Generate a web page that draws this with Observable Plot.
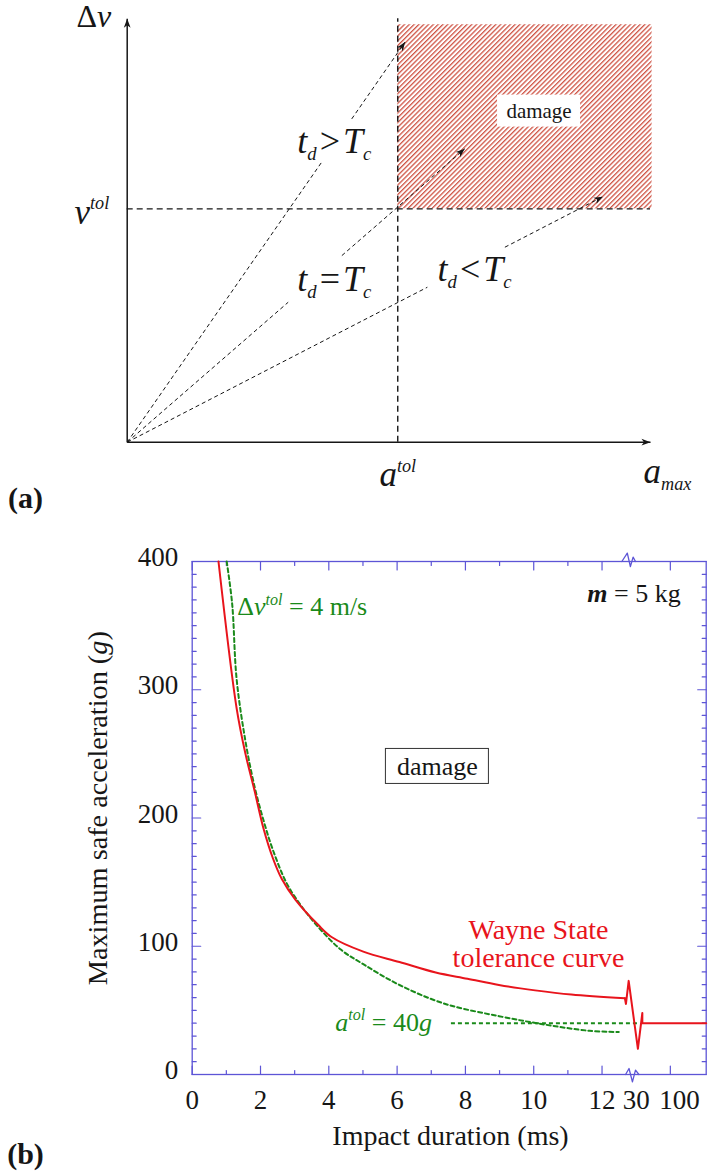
<!DOCTYPE html>
<html><head><meta charset="utf-8">
<script src="https://cdn.jsdelivr.net/npm/d3@7"></script>
<script src="https://cdn.jsdelivr.net/npm/@observablehq/plot@0.6"></script>
<style>
html,body{margin:0;padding:0;background:#fff;}
#chart{width:710px;}
#chart svg{display:block;}
</style></head><body>
<svg width="0" height="0" style="position:absolute">
<defs><pattern id="hatchA" patternUnits="userSpaceOnUse" width="3.4" height="3.4" patternTransform="rotate(45)">
<rect width="3.4" height="3.4" fill="#fff"/><rect x="0" y="0" width="1.3" height="3.4" fill="#cf5445"/></pattern></defs></svg>
<div id="chart"></div>
<script>
const FONT = '"Liberation Serif", "Times New Roman", Times, serif';
const INK = "#161616";
const RED = "#e8141c";
const GREEN = "#1a8a1a";
const FRAME = "#5d55d6";

// ---------- Panel (a) data (abstract units) ----------
const aTolA = 0.517;
const vTolA = 0.551;
const damageRegionX = [0.517, 1.003];
const damageRegionY = [0.551, 0.986];
const trajLabels = ["*t*_{*d*}\u200a>\u200a*T*_{*c*}", "*t*_{*d*}\u200a=\u200a*T*_{*c*}", "*t*_{*d*}\u200a<\u200a*T*_{*c*}"];
const trajEndX = [0.531, 0.645, 0.909];
const trajEndY = [0.945, 0.693, 0.580];
const trajGapFrom = [0.70, 0.477, 0.631];
const trajGapTo = [0.808, 0.636, 0.794];
const trajLabelX = [0.325, 0.325, 0.593];
const trajLabelY = [0.711, 0.384, 0.408];
const damageLabelA = [{x: 0.787, y: 0.782, text: "damage"}];

// ---------- Panel (b) data ----------
// Wayne State tolerance curve (ms, g)
const wsT = [0.77, 1.30, 1.56, 1.83, 2.09, 2.36, 2.62, 3.02, 3.68, 4.08, 5.01, 6.07, 7.13, 8.06, 8.98, 10.04, 11.10, 12.67];
const wsA = [400, 285.7, 250, 220.8, 191.6, 168.8, 152.6, 136.4, 116.9, 107.2, 95.8, 87.7, 79.5, 74.7, 69.8, 65.6, 62.3, 59.4];
// broken-axis part of the Wayne State curve (break symbol, then the 40 g plateau)
const wsBreakT = [12.67, 12.70, 12.78, 13.05, 13.18, 13.18, 15.05];
const wsBreakA = [59.4, 55, 73, 20, 48, 40, 40];
// Δv_tol = 4 m/s curve
const dvT = [1.01, 1.17, 1.30, 1.56, 1.83, 2.09, 2.36, 2.76, 3.15, 3.68, 4.35, 5.01, 6.07, 7.39, 8.98, 10.31, 11.63, 12.49];
const dvA = [400, 367, 308.5, 259.8, 224, 198, 175.3, 149.4, 133, 115.3, 97.4, 86, 69.8, 55.2, 45.5, 39, 34.1, 33.1];
// a_tol = 40 g line
const aTolG = 40;
const aTolLineFrom = 7.59, aTolLineTo = 13.12;
// axis ticks & labels
const xMajor = [0, 2, 4, 6, 8, 10, 12, 14];
const xMinor = [1, 3, 5, 7, 9, 11];
const xLabelText = ["0", "2", "4", "6", "8", "10", "12", "30", "100"];
const xLabelPos = [0, 2, 4, 6, 8, 10, 12, 13.0, 14.27];
const yMajor = [0, 100, 200, 300, 400];
const yMinor = d3.range(10, 400, 10).filter(v => v % 100 !== 0);
const xMax = 15.05;
// axis-break zigzags on the frame
const breakTopT = [12.58, 12.74, 12.83, 12.91, 12.98];
const breakTopDA = [0, 6.5, -3.9, 3.4, 0];
const breakBotT = [12.69, 12.79, 12.89, 12.98, 13.08];
const breakBotDA = [0, 4.7, -5.7, 3.4, 0];

// ---------- helpers ----------
function parseRich(s) {
  const segs = [];
  let buf = "", italic = false, bold = false, shift = 0;
  const flush = () => { if (buf) segs.push({t: buf, italic, bold, shift}); buf = ""; };
  for (let i = 0; i < s.length; i++) {
    const c = s[i];
    if (c === "*") { flush(); italic = !italic; }
    else if (c === "#") { flush(); bold = !bold; }
    else if ((c === "^" || c === "_") && s[i + 1] === "{") { flush(); shift = c === "^" ? 1 : -1; i++; }
    else if (c === "}" && shift) { flush(); shift = 0; }
    else buf += c;
  }
  flush();
  return segs;
}
function richify(svg, {ratio, sup, sub}) {
  d3.select(svg).selectAll("text").each(function () {
    const s = this.textContent;
    if (!/[*#]|\^\{|_\{/.test(s)) return;
    if (this.querySelector("tspan")) return;
    const F = parseFloat(getComputedStyle(this).fontSize);
    const segs = parseRich(s);
    while (this.firstChild) this.removeChild(this.firstChild);
    let cur = 0;
    for (const seg of segs) {
      const t = d3.select(this).append("tspan").text(seg.t);
      if (seg.italic) t.attr("font-style", "italic");
      if (seg.bold) t.attr("font-weight", "bold");
      const target = seg.shift > 0 ? -sup * F : seg.shift < 0 ? sub * F : 0;
      if (target !== cur) { t.attr("dy", (target - cur).toFixed(2)); cur = target; }
      if (seg.shift) t.attr("font-size", (ratio * F).toFixed(2));
    }
  });
}
const headSymbol = {draw(ctx) { ctx.moveTo(0, 0); ctx.lineTo(-3.4, 9); ctx.lineTo(0, 6.5); ctx.lineTo(3.4, 9); ctx.closePath(); }};
const tickShape = {draw(ctx, l) { ctx.moveTo(0, 0); ctx.lineTo(0, -l); }};

// ---------- Panel (a) ----------
const A = {width: 710, height: 515, ml: 126.7, mr: 60, mt: 18.3, mb: 73.3};
const kxA = A.width - A.mr - A.ml, kyA = A.height - A.mb - A.mt;
const traj = trajEndX.map((ex, i) => ({
  ex, ey: trajEndY[i], g0: trajGapFrom[i], g1: trajGapTo[i], label: trajLabels[i],
  lx: trajLabelX[i], ly: trajLabelY[i],
  rot: Math.atan2(ex * kxA, trajEndY[i] * kyA) * 180 / Math.PI
}));
const axesA = [{x2: 1, y2: 0, rot: 90}, {x2: 0, y2: 1, rot: 0}];

const plotA = Plot.plot({
  width: A.width, height: A.height,
  marginLeft: A.ml, marginRight: A.mr, marginTop: A.mt, marginBottom: A.mb,
  x: {domain: [0, 1], axis: null},
  y: {domain: [0, 1], axis: null},
  style: {fontFamily: FONT, fontSize: "22px", background: "white", color: INK, overflow: "visible"},
  marks: [
    Plot.rect([0], {x1: () => damageRegionX[0], x2: () => damageRegionX[1], y1: () => damageRegionY[0], y2: () => damageRegionY[1], fill: "url(#hatchA)"}),
    Plot.rect(damageLabelA, {x1: "x", x2: "x", y1: "y", y2: "y", insetLeft: -41.5, insetRight: -41.5, insetTop: -16, insetBottom: -16, fill: "white"}),
    Plot.text(damageLabelA, {x: "x", y: "y", text: "text", fontSize: 21, fill: INK}),
    Plot.ruleX([aTolA], {y1: () => 0, y2: () => 1, stroke: INK, strokeWidth: 1.4, strokeDasharray: "6,4"}),
    Plot.ruleY([vTolA], {x1: () => 0, x2: () => 1, stroke: INK, strokeWidth: 1.4, strokeDasharray: "6,4"}),
    Plot.link(traj, {x1: () => 0, y1: () => 0, x2: d => d.ex * d.g0, y2: d => d.ey * d.g0, stroke: INK, strokeWidth: 1, strokeDasharray: "4,3"}),
    Plot.link(traj, {x1: d => d.ex * d.g1, y1: d => d.ey * d.g1, x2: "ex", y2: "ey", stroke: INK, strokeWidth: 1, strokeDasharray: "4,3"}),
    Plot.dot(traj, {x: "ex", y: "ey", rotate: "rot", symbol: headSymbol, fill: INK, stroke: "none"}),
    Plot.link(axesA, {x1: () => 0, y1: () => 0, x2: "x2", y2: "y2", stroke: INK, strokeWidth: 1.5}),
    Plot.dot(axesA, {x: "x2", y: "y2", rotate: "rot", symbol: headSymbol, fill: INK, stroke: "none"}),
    Plot.text(traj, {x: "lx", y: "ly", text: "label", textAnchor: "start", fontSize: 36, fill: INK}),
    Plot.text(["Δ*v*"], {x: () => 0, y: () => 1, text: d => d, textAnchor: "end", dx: -16, dy: -2, fontSize: 32, fill: INK}),
    Plot.text(["*v*^{*tol*}"], {x: () => 0, y: () => vTolA, text: d => d, textAnchor: "end", dx: -18, dy: 4, fontSize: 35, fill: INK}),
    Plot.text(["*a*^{*tol*}"], {x: () => aTolA, y: () => 0, text: d => d, dy: 33, fontSize: 35, fill: INK}),
    Plot.text(["*a*_{*max*}"], {x: () => 1.0325, y: () => 0, text: d => d, dy: 30, fontSize: 35, fill: INK}),
    Plot.text(["(a)"], {frameAnchor: "bottom-left", text: d => d, textAnchor: "middle", lineAnchor: "middle", dx: -101.8, dy: 56, fontSize: 30, fontWeight: "bold", fill: INK})
  ]
});

// ---------- Panel (b) ----------
const wsTable = wsT.map((t, i) => ({t, a: wsA[i]}));
const wsBreakTable = wsBreakT.map((t, i) => ({t, a: wsBreakA[i]}));
const dvTable = dvT.map((t, i) => ({t, a: dvA[i]}));
const breakTop = breakTopT.map((t, i) => ({t, a: 400 + breakTopDA[i]}));
const breakBot = breakBotT.map((t, i) => ({t, a: 0 + breakBotDA[i]}));
const tickV = (data, opts, length) => Plot.vector(data, {...opts, length, anchor: "start", shape: tickShape, stroke: FRAME, strokeWidth: 1.2});

const plotB = Plot.plot({
  width: 710, height: 659,
  marginLeft: 191.7, marginRight: 4.3, marginTop: 46, marginBottom: 100,
  x: {domain: [0, xMax], axis: null},
  y: {domain: [0, 400], axis: null},
  style: {fontFamily: FONT, fontSize: "26px", background: "white", color: INK, overflow: "visible"},
  marks: [
    Plot.frame({stroke: FRAME, strokeWidth: 1.3}),
    tickV(xMajor, {x: d => d, y: () => 0, rotate: 0}, 8.5),
    tickV(xMinor, {x: d => d, y: () => 0, rotate: 0}, 4),
    tickV(xMajor, {x: d => d, y: () => 400, rotate: 180}, 8.5),
    tickV(xMinor, {x: d => d, y: () => 400, rotate: 180}, 4),
    tickV(yMajor, {x: () => 0, y: d => d, rotate: 90}, 8.5),
    tickV(yMinor, {x: () => 0, y: d => d, rotate: 90}, 4),
    tickV(yMajor, {x: () => xMax, y: d => d, rotate: -90}, 8.5),
    tickV(yMinor, {x: () => xMax, y: d => d, rotate: -90}, 4),
    Plot.line(breakTop, {x: "t", y: "a", stroke: FRAME, strokeWidth: 1.3}),
    Plot.line(breakBot, {x: "t", y: "a", stroke: FRAME, strokeWidth: 1.3}),
    Plot.line(dvTable, {x: "t", y: "a", stroke: GREEN, strokeWidth: 2, strokeDasharray: "4,3", curve: "catmull-rom"}),
    Plot.ruleY([aTolG], {x1: () => aTolLineFrom, x2: () => aTolLineTo, stroke: GREEN, strokeWidth: 2, strokeDasharray: "4,3"}),
    Plot.line(wsTable, {x: "t", y: "a", stroke: RED, strokeWidth: 2, curve: "catmull-rom"}),
    Plot.line(wsBreakTable, {x: "t", y: "a", stroke: RED, strokeWidth: 2}),
    Plot.text(yMajor, {x: () => 0, y: d => d, text: d => String(d), textAnchor: "end", dx: -14, dy: -4, fontSize: 27, fill: INK}),
    Plot.text(xLabelPos, {x: d => d, y: () => 0, text: (d, i) => xLabelText[i], dy: 25.5, fontSize: 27, fill: INK}),
    Plot.text(["Maximum safe acceleration (*g*)"], {frameAnchor: "left", text: d => d, textAnchor: "middle", lineAnchor: "middle", rotate: -90, dx: -93.7, dy: -9.8, fontSize: 28, fill: INK}),
    Plot.text(["Impact duration (ms)"], {frameAnchor: "bottom", text: d => d, textAnchor: "middle", lineAnchor: "middle", dx: 1.3, dy: 62, fontSize: 28, fill: INK}),
    Plot.text(["(b)"], {frameAnchor: "bottom-left", text: d => d, textAnchor: "middle", lineAnchor: "middle", dx: -166.7, dy: 80, fontSize: 30, fontWeight: "bold", fill: INK}),
    Plot.text(["Δ*ν*^{*tol*} = 4 m/s"], {x: () => 1.318, y: () => 364.4, text: d => d, textAnchor: "start", fontSize: 26, fill: GREEN}),
    Plot.text(["#*m*# = 5 kg"], {x: () => 11.57, y: () => 374.7, text: d => d, textAnchor: "start", fontSize: 26, fill: INK}),
    Plot.rect([{x: 7.18, y: 240.2}], {x1: "x", x2: "x", y1: "y", y2: "y", insetLeft: -51.5, insetRight: -51.5, insetTop: -17.5, insetBottom: -17.5, fill: "white", stroke: "#333", strokeWidth: 1}),
    Plot.text(["damage"], {x: () => 7.18, y: () => 240.2, text: d => d, fontSize: 26, fill: INK}),
    Plot.text(["Wayne State\ntolerance curve"], {x: () => 10.14, y: () => 101.4, text: d => d, lineHeight: 1.0, fontSize: 28, fill: RED}),
    Plot.text(["*a*^{*tol*} = 40*g*"], {x: () => 4.19, y: () => 40.3, text: d => d, textAnchor: "start", fontSize: 26, fill: GREEN})
  ]
});

const chart = document.getElementById("chart");
chart.appendChild(plotA);
chart.appendChild(plotB);
richify(plotA, {ratio: 0.52, sup: 0.42, sub: 0.2});
richify(plotB, {ratio: 0.62, sup: 0.42, sub: 0.2});
// the y-axis title of panel (b) is drawn stretched along its length in the original
d3.select(plotB).selectAll("text").filter(function () { return this.textContent.startsWith("Maximum"); })
  .attr("textLength", 354).attr("lengthAdjust", "spacingAndGlyphs");
</script>
</body></html>
